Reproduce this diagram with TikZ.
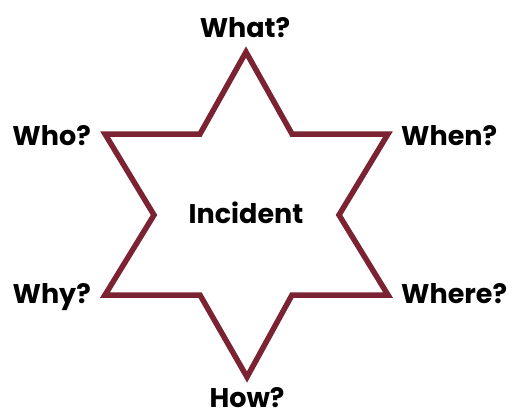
\documentclass[tikz,border=0pt]{standalone}
\usepackage{fontspec}
\setmainfont{Poppins}
\usepackage{xcolor}
\definecolor{starred}{HTML}{7B2332}
\usetikzlibrary{positioning}

\begin{document}
\begin{tikzpicture}[
  x=1pt,y=-1pt,
  star/.style={draw=starred,line width=5.5pt,line join=miter},
  lbl/.style={font=\fontsize{27}{30}\selectfont\bfseries,inner sep=0pt}
]
\useasboundingbox (0,0) rectangle (512,413);
% points of the star
\coordinate (top) at (246,52);
\coordinate (tri) at (292,134);
\coordinate (ru) at (388,134);
\coordinate (ri) at (339,215);
\coordinate (rl) at (388,295);
\coordinate (bri) at (292,295);
\coordinate (bot) at (247,377);
\coordinate (bli) at (200,295);
\coordinate (ll) at (105,295);
\coordinate (li) at (154,215);
\coordinate (lu) at (105,134);
\coordinate (tli) at (200,134);
\draw[star] (top) -- (tri) -- (ru) -- (ri) -- (rl) -- (bri) -- (bot)
  -- (bli) -- (ll) -- (li) -- (lu) -- (tli) -- cycle;
% labels
\node[lbl,anchor=base] (what) at (245,37) {What?};
\node[lbl,anchor=base east] (who) at (91,145) {Who?};
\node[lbl,anchor=base west] (when) at (401,145) {When?};
\node[lbl,anchor=base east] (why) at (91,303) {Why?};
\node[lbl,anchor=base west] (where) at (401,303) {Where?};
\node[lbl,anchor=base] (how) at (247,407) {How?};
\node[lbl,anchor=base] (inc) at (246,223) {Incident};
\end{tikzpicture}
\end{document}
